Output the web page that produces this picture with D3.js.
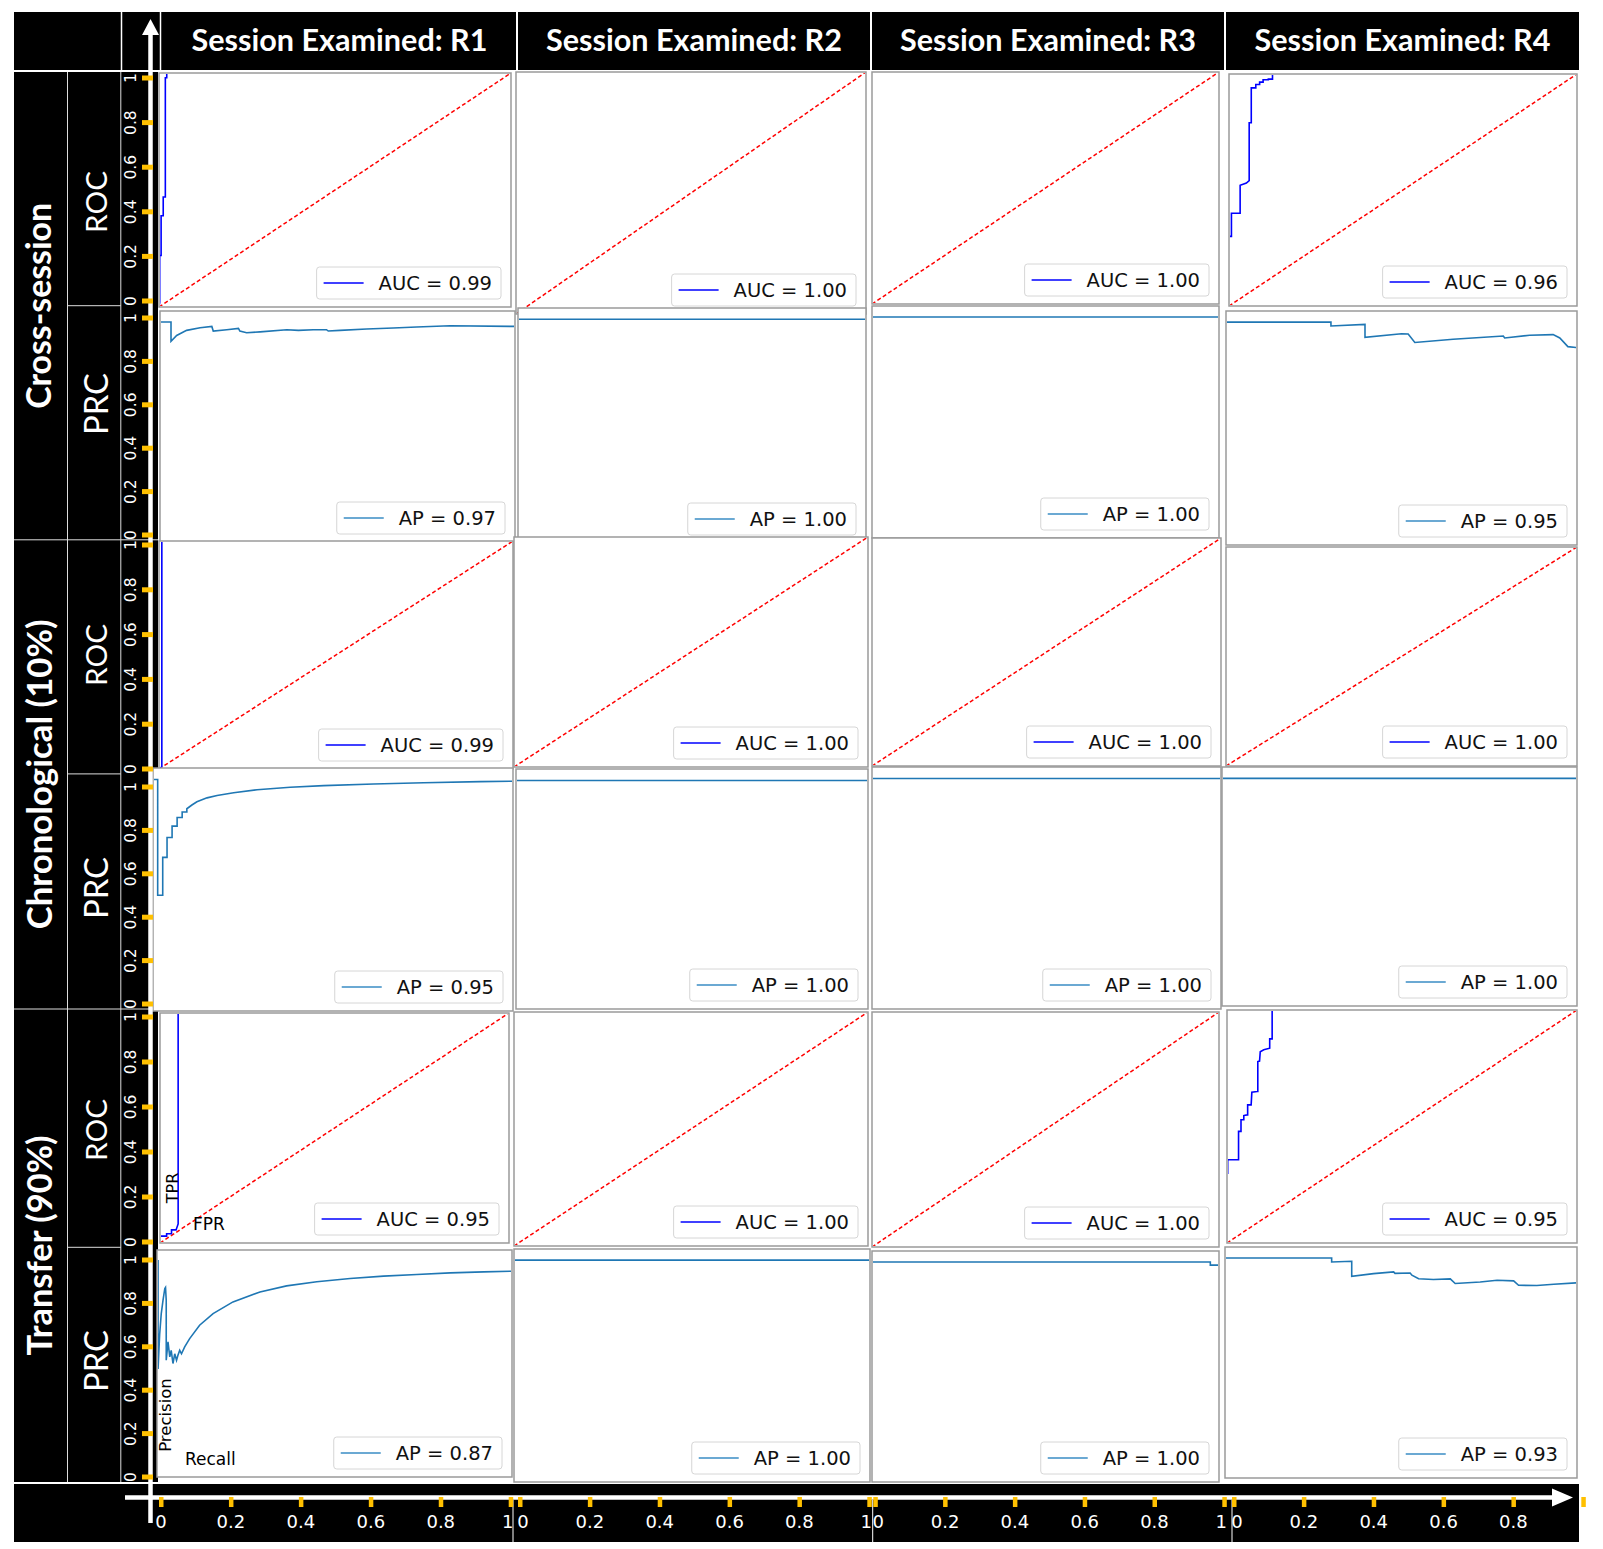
<!DOCTYPE html>
<html><head><meta charset="utf-8">
<script src="https://cdn.jsdelivr.net/npm/d3@7"></script>
<style>body{margin:0;background:#fff}</style>
</head><body>
<svg id="chart" width="1603" height="1549"></svg>
<script>
// ---------------- DATA ----------------
const sessions = ["R1", "R2", "R3", "R4"];
const schemes = ["Cross-session", "Chronological (10%)", "Transfer (90%)"];
const curveKinds = ["ROC", "PRC"];
const axisTicks = [0, 0.2, 0.4, 0.6, 0.8, 1];
const axisTickLabels = ["0", "0.2", "0.4", "0.6", "0.8", "1"];

const crossAUC = [0.99, 1.00, 1.00, 0.96];
const crossAP = [0.97, 1.00, 1.00, 0.95];
const chronoAUC = [0.99, 1.00, 1.00, 1.00];
const chronoAP = [0.95, 1.00, 1.00, 1.00];
const transferAUC = [0.95, 1.00, 1.00, 0.95];
const transferAP = [0.87, 1.00, 1.00, 0.93];

// ROC curves: [FPR, TPR]
const perfectRoc = [[0, 0], [0, 1], [1, 1]];
const crossRocR1 = [[0, 0], [0.002, 0.02], [0.002, 0.22], [0.006, 0.22], [0.006, 0.39], [0.012, 0.39], [0.012, 0.47], [0.018, 0.47], [0.018, 0.98], [0.022, 0.98], [0.022, 1], [1, 1]];
const crossRocR4 = [[0, 0], [0, 0.30], [0.007, 0.30], [0.007, 0.40], [0.032, 0.40], [0.032, 0.52], [0.05, 0.53], [0.058, 0.54], [0.058, 0.79], [0.064, 0.79], [0.064, 0.94], [0.077, 0.94], [0.077, 0.955], [0.088, 0.955], [0.088, 0.965], [0.098, 0.965], [0.098, 0.975], [0.113, 0.975], [0.113, 0.978], [0.125, 0.978], [0.125, 1], [1, 1]];
const chronoRocR1 = [[0, 0], [0.008, 0.01], [0.008, 1], [1, 1]];
const transferRocR1 = [[0, 0], [0, 0.03], [0.019, 0.03], [0.019, 0.04], [0.033, 0.04], [0.033, 0.057], [0.046, 0.057], [0.052, 0.083], [0.052, 1], [1, 1]];
const transferRocR4 = [[0, 0], [0, 0.30], [0.002, 0.30], [0.002, 0.357], [0.033, 0.357], [0.033, 0.479], [0.04, 0.479], [0.04, 0.529], [0.048, 0.529], [0.048, 0.547], [0.057, 0.55], [0.059, 0.55], [0.059, 0.593], [0.069, 0.593], [0.071, 0.647], [0.086, 0.65], [0.088, 0.65], [0.088, 0.779], [0.093, 0.781], [0.095, 0.821], [0.105, 0.829], [0.122, 0.836], [0.122, 0.876], [0.129, 0.876], [0.129, 1], [1, 1]];

// PR curves: [Recall, Precision]
const perfectPrc = [[0, 1], [1, 1]];
const crossPrcR1 = [[0, 1], [0.031, 1], [0.031, 0.912], [0.047, 0.939], [0.075, 0.962], [0.113, 0.974], [0.146, 0.98], [0.150, 0.959], [0.188, 0.965], [0.221, 0.971], [0.225, 0.959], [0.244, 0.951], [0.282, 0.955], [0.357, 0.965], [0.39, 0.962], [0.432, 0.965], [0.469, 0.965], [0.474, 0.959], [0.507, 0.962], [0.582, 0.968], [0.657, 0.973], [0.723, 0.977], [0.817, 0.983], [1, 0.98]];
const crossPrcR4 = [[0, 1], [0.299, 1], [0.299, 0.983], [0.396, 0.99], [0.396, 0.932], [0.5, 0.948], [0.519, 0.947], [0.538, 0.909], [0.647, 0.923], [0.79, 0.938], [0.794, 0.929], [0.865, 0.941], [0.932, 0.944], [0.951, 0.929], [0.974, 0.89], [1, 0.886]];
const chronoPrcR1 = [[0, 1], [0.013, 1], [0.013, 0.50], [0.027, 0.50], [0.027, 0.664], [0.039, 0.664], [0.039, 0.75], [0.053, 0.75], [0.053, 0.799], [0.067, 0.799], [0.067, 0.836], [0.081, 0.836], [0.081, 0.86], [0.094, 0.86], [0.094, 0.874], [0.108, 0.89], [0.122, 0.904], [0.15, 0.921], [0.178, 0.931], [0.224, 0.943], [0.289, 0.956], [0.381, 0.967], [0.474, 0.974], [0.613, 0.981], [0.752, 0.986], [0.909, 0.991], [1, 0.993]];
const transferPrcR1 = [[0, 1], [0.003, 1], [0.003, 0.50], [0.0075, 0.66], [0.012, 0.756], [0.017, 0.818], [0.022, 0.872], [0.024, 0.877], [0.026, 0.818], [0.026, 0.54], [0.031, 0.625], [0.036, 0.556], [0.04, 0.586], [0.045, 0.525], [0.05, 0.57], [0.055, 0.54], [0.059, 0.563], [0.064, 0.586], [0.069, 0.57], [0.078, 0.602], [0.092, 0.64], [0.12, 0.702], [0.158, 0.756], [0.214, 0.81], [0.29, 0.856], [0.365, 0.884], [0.45, 0.903], [0.544, 0.918], [0.638, 0.929], [0.732, 0.937], [0.826, 0.944], [0.92, 0.949], [1, 0.952]];
const transferPrcR3 = [[0, 1], [0.975, 1], [0.975, 0.986], [1, 0.986]];
const transferPrcR4 = [[0, 1], [0.303, 1], [0.303, 0.982], [0.36, 0.985], [0.36, 0.917], [0.422, 0.929], [0.479, 0.937], [0.483, 0.93], [0.526, 0.932], [0.531, 0.922], [0.55, 0.906], [0.592, 0.902], [0.64, 0.905], [0.654, 0.884], [0.725, 0.891], [0.773, 0.899], [0.82, 0.896], [0.834, 0.876], [0.886, 0.875], [0.934, 0.881], [1, 0.887]];

// ---------------- LAYOUT ----------------
const W = 1603, H = 1549;
// plot frames per row (Cross ROC, Cross PRC, Chrono ROC, Chrono PRC, Transfer ROC, Transfer PRC) and column: [x0,x1,y0,y1]
const panelBoxes = [
  [[159, 511, 73, 307], [516, 866, 72, 314], [872, 1219, 72, 304], [1229, 1577, 74, 306]],
  [[160, 515, 311, 542], [518, 866, 308, 543], [872, 1219, 306, 538], [1226, 1577, 311, 545]],
  [[159, 513, 541, 769], [514, 868, 537, 767], [872, 1221, 538, 766], [1226, 1577, 547, 766]],
  [[153, 513, 768, 1011], [516, 868, 769, 1009], [872, 1221, 767, 1009], [1222, 1577, 767, 1006]],
  [[160, 509, 1013, 1243], [514, 868, 1012, 1246], [872, 1219, 1012, 1247], [1227, 1577, 1010, 1243]],
  [[157, 512, 1250, 1477], [514, 870, 1249, 1482], [872, 1219, 1251, 1482], [1225, 1577, 1247, 1478]]
];
const bandTickRanges = [[301, 78], [535, 318], [769, 545], [1004, 787], [1242, 1017], [1477, 1260]];
const bandEdges = [72, 305.7, 539.8, 773.9, 1009, 1247.3, 1482];
const kindLabelY = [202, 404, 655, 888, 1130, 1361];
const xAxisRanges = [[161, 510.7], [520, 869.3], [875.3, 1224.3], [1234, 1583.3]];
const headerCells = [[163, 516], [518, 870], [872, 1224], [1226, 1579]];

const rows = [
  { kind: "ROC", metric: crossAUC, curves: [crossRocR1, perfectRoc, perfectRoc, crossRocR4] },
  { kind: "PRC", metric: crossAP, curves: [crossPrcR1, perfectPrc, perfectPrc, crossPrcR4] },
  { kind: "ROC", metric: chronoAUC, curves: [chronoRocR1, perfectRoc, perfectRoc, perfectRoc] },
  { kind: "PRC", metric: chronoAP, curves: [chronoPrcR1, perfectPrc, perfectPrc, perfectPrc] },
  { kind: "ROC", metric: transferAUC, curves: [transferRocR1, perfectRoc, perfectRoc, transferRocR4] },
  { kind: "PRC", metric: transferAP, curves: [transferPrcR1, perfectPrc, transferPrcR3, transferPrcR4] }
];

const MPL = "'DejaVu Sans', sans-serif";
const OFFICE = "Lato, 'Open Sans', sans-serif";
const ORANGE = "#FFC000";

const svg = d3.select("#chart");
svg.append("rect").attr("width", W).attr("height", H).attr("fill", "#fff");
const defs = svg.append("defs");

function fitText(sel, target) {
  const len = sel.node().getComputedTextLength();
  const fs = parseFloat(sel.attr("font-size"));
  if (len > 0) sel.attr("font-size", fs * target / len);
  return sel;
}

// ---------- Header ----------
svg.append("rect").attr("x", 14).attr("y", 12).attr("width", 1565).attr("height", 58).attr("fill", "#000");
[121.5, 160.5].forEach(x => svg.append("line").attr("x1", x).attr("x2", x).attr("y1", 12).attr("y2", 70).attr("stroke", "#fff").attr("stroke-width", 1.5));
headerCells.forEach((c, i) => {
  if (i > 0) svg.append("line").attr("x1", c[0] - 1).attr("x2", c[0] - 1).attr("y1", 12).attr("y2", 70).attr("stroke", "#fff").attr("stroke-width", 2);
  const t = svg.append("text").attr("x", (c[0] + c[1]) / 2).attr("y", 51)
    .attr("text-anchor", "middle").attr("font-family", OFFICE).attr("font-weight", 700)
    .attr("font-size", 28).attr("fill", "#fff").text("Session Examined: " + sessions[i]);
  fitText(t, 296);
});

// ---------- Left label columns ----------
svg.append("rect").attr("x", 14).attr("y", 72).attr("width", 144).attr("height", 1410).attr("fill", "#000");
[67.5, 120.8].forEach(x => svg.append("line").attr("x1", x).attr("x2", x).attr("y1", 72).attr("y2", 1482).attr("stroke", "#ddd").attr("stroke-width", 1));
[bandEdges[2], bandEdges[4]].forEach(y => svg.append("line").attr("x1", 14).attr("x2", 158).attr("y1", y).attr("y2", y).attr("stroke", "#ddd").attr("stroke-width", 1));
[bandEdges[1], bandEdges[3], bandEdges[5]].forEach(y => svg.append("line").attr("x1", 67.5).attr("x2", 120.8).attr("y1", y).attr("y2", y).attr("stroke", "#ddd").attr("stroke-width", 1));

const schemeLen = [206, 310, 220];
schemes.forEach((s, i) => {
  const cy = (bandEdges[2 * i] + bandEdges[2 * i + 2]) / 2;
  const t = svg.append("text").attr("transform", `translate(38,${cy}) rotate(-90)`)
    .attr("text-anchor", "middle").attr("dominant-baseline", "central")
    .attr("font-family", OFFICE).attr("font-weight", 700).attr("font-size", 32).attr("fill", "#fff").text(s);
  fitText(t, schemeLen[i]);
});
rows.forEach((r, i) => {
  const t = svg.append("text").attr("transform", `translate(95,${kindLabelY[i]}) rotate(-90)`)
    .attr("text-anchor", "middle").attr("dominant-baseline", "central")
    .attr("font-family", OFFICE).attr("font-size", 30).attr("fill", "#fff").text(r.kind);
  fitText(t, 62);
});

// ---------- Bottom bar ----------
svg.append("rect").attr("x", 14).attr("y", 1484).attr("width", 1565).attr("height", 58).attr("fill", "#000");
[513, 872.7, 1232].forEach(x => svg.append("line").attr("x1", x).attr("x2", x).attr("y1", 1500).attr("y2", 1542).attr("stroke", "#fff").attr("stroke-width", 1));

// ---------- Panels ----------
rows.forEach((r, ri) => {
  sessions.forEach((s, ci) => {
    const [x0, x1, y0, y1] = panelBoxes[ri][ci];
    const x = d3.scaleLinear().domain([0, 1]).range([x0, x1]);
    const y = d3.scaleLinear().domain(r.kind === "ROC" ? [0, 1] : [0, 1.05]).range([y1, y0]);
    const g = svg.append("g");
    g.append("rect").attr("x", x0).attr("y", y0).attr("width", x1 - x0).attr("height", y1 - y0)
      .attr("fill", "#fff").attr("stroke", "#9a9a9a").attr("stroke-width", 1.5);
    const cid = `clip-${ri}-${ci}`;
    defs.append("clipPath").attr("id", cid).append("rect")
      .attr("x", x0 + 1).attr("y", y0 + 1).attr("width", x1 - x0 - 2).attr("height", y1 - y0 - 2);
    const pg = g.append("g").attr("clip-path", `url(#${cid})`);
    const line = d3.line().x(d => x(d[0])).y(d => y(d[1]));
    if (r.kind === "ROC") {
      pg.append("path").attr("d", line([[0, 0], [1, 1]])).attr("fill", "none")
        .attr("stroke", "#ff0000").attr("stroke-width", 1.5).attr("stroke-dasharray", "4,2.5");
    }
    pg.append("path").attr("d", line(r.curves[ci])).attr("fill", "none")
      .attr("stroke", r.kind === "ROC" ? "#0000ff" : "#1f77b4").attr("stroke-width", 1.6);

    // legend
    const label = (r.kind === "ROC" ? "AUC = " : "AP = ") + r.metric[ci].toFixed(2);
    const lg = g.append("g");
    const txt = lg.append("text").attr("font-family", MPL).attr("font-size", 19.5).attr("fill", "#111").text(label);
    const tw = txt.node().getComputedTextLength();
    const bw = 62 + tw + 9, bh = 32;
    const bx = x1 - 10 - bw, by = y1 - 8 - bh;
    lg.insert("rect", "text").attr("x", bx).attr("y", by).attr("width", bw).attr("height", bh)
      .attr("rx", 3).attr("fill", "#fff").attr("fill-opacity", 0.85).attr("stroke", "#d6d6d6").attr("stroke-width", 1);
    lg.append("line").attr("x1", bx + 7).attr("x2", bx + 47).attr("y1", by + bh / 2).attr("y2", by + bh / 2)
      .attr("stroke", r.kind === "ROC" ? "#0000ff" : "#3a8cc4").attr("stroke-width", 1.6);
    txt.attr("x", bx + 62).attr("y", by + bh / 2 + 7);
  });
});

// Axis name annotations inside first transfer panels
svg.append("text").attr("transform", "translate(172,1188) rotate(-90)").attr("text-anchor", "middle")
  .attr("dominant-baseline", "central").attr("font-family", MPL).attr("font-size", 16).attr("fill", "#000").text("TPR");
svg.append("text").attr("x", 193).attr("y", 1230).attr("font-family", MPL).attr("font-size", 17).attr("fill", "#000").text("FPR");
svg.append("text").attr("transform", "translate(165,1415) rotate(-90)").attr("text-anchor", "middle")
  .attr("dominant-baseline", "central").attr("font-family", MPL).attr("font-size", 16.5).attr("fill", "#000").text("Precision");
svg.append("text").attr("x", 185).attr("y", 1465).attr("font-family", MPL).attr("font-size", 17).attr("fill", "#000").text("Recall");

// ---------- Arrows ----------
svg.append("line").attr("x1", 150.5).attr("x2", 150.5).attr("y1", 1523).attr("y2", 32).attr("stroke", "#fff").attr("stroke-width", 4.5);
svg.append("path").attr("d", "M150.5,19 L159,35 L142,35 Z").attr("fill", "#fff");
svg.append("line").attr("x1", 125).attr("x2", 1556).attr("y1", 1497.5).attr("y2", 1497.5).attr("stroke", "#fff").attr("stroke-width", 4.5);
svg.append("path").attr("d", "M1573,1497.5 L1552,1488.5 L1552,1506.5 Z").attr("fill", "#fff");

// ---------- Left band ticks (orange) ----------
bandTickRanges.forEach(rg => {
  const ys = d3.scaleLinear().domain([0, 1]).range(rg);
  axisTicks.forEach((v, k) => {
    svg.append("rect").attr("x", 142).attr("y", ys(v) - 2.5).attr("width", 11).attr("height", 5).attr("fill", ORANGE);
    svg.append("text").attr("transform", `translate(131,${ys(v)}) rotate(-90)`).attr("text-anchor", "middle")
      .attr("dominant-baseline", "central").attr("font-family", MPL).attr("font-size", 15.5).attr("fill", "#fff")
      .text(axisTickLabels[k]);
  });
});

// ---------- Bottom axis ticks ----------
xAxisRanges.forEach((rg, ci) => {
  const xs = d3.scaleLinear().domain([0, 1]).range(rg);
  axisTicks.forEach((v, k) => {
    svg.append("rect").attr("x", xs(v) - 2).attr("y", 1497).attr("width", 4.5).attr("height", 10).attr("fill", ORANGE);
    // nudge end labels that meet a neighbouring column's label
    let dx = 0;
    if (k === 0 && ci > 0) dx = 3;
    if (k === axisTicks.length - 1 && ci < xAxisRanges.length - 1) dx = -3;
    svg.append("text").attr("x", xs(v) + dx).attr("y", 1528).attr("text-anchor", "middle")
      .attr("font-family", MPL).attr("font-size", 18).attr("fill", "#fff").text(axisTickLabels[k]);
  });
});
</script>
</body></html>
